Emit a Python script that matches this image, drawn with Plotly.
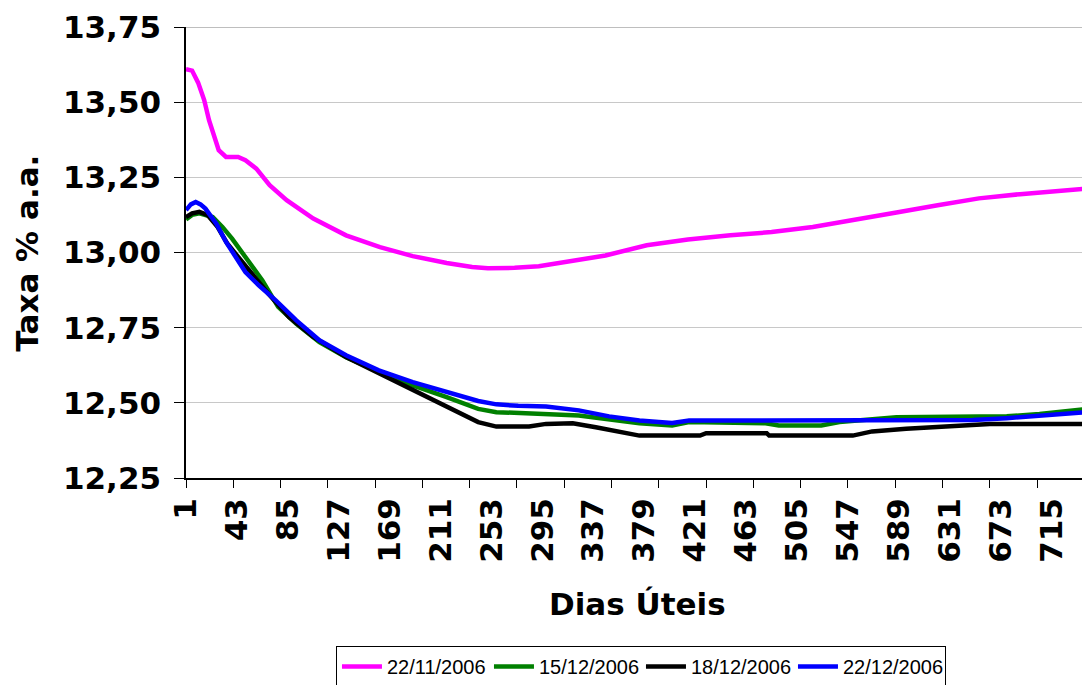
import plotly.graph_objects as go

# ---- data ----
series_names = ["22/11/2006", "15/12/2006", "18/12/2006", "22/12/2006"]
series_colors = ["#FF00FF", "#008000", "#000000", "#0000FF"]

d_nov22 = [1, 6, 11, 16, 20, 24, 28, 34, 40, 44, 50, 59, 70, 84, 106, 133, 161, 188, 216, 237,
           250, 272, 292, 313, 347, 381, 415, 450, 484, 518, 552, 587, 621, 655, 689, 724, 745]
v_nov22 = [13.61, 13.605, 13.565, 13.507, 13.44, 13.385, 13.34, 13.318, 13.316, 13.318, 13.307,
           13.279, 13.224, 13.174, 13.113, 13.057, 13.018, 12.988, 12.965, 12.952,
           12.948, 12.949, 12.954, 12.968, 12.99, 13.024, 13.043, 13.057, 13.068, 13.085,
           13.107, 13.133, 13.157, 13.18, 13.194, 13.205, 13.213]

d_dec15 = [1, 6, 12, 23, 31, 39, 50, 64, 77, 92, 111, 133, 161, 188, 216, 242, 257, 298, 325,
           375, 402, 416, 479, 490, 525, 540, 554, 587, 678, 705, 745]
v_dec15 = [13.11, 13.125, 13.13, 13.118, 13.085, 13.046, 12.985, 12.907, 12.819, 12.763,
           12.702, 12.652, 12.602, 12.558, 12.519, 12.48, 12.469, 12.464, 12.458,
           12.432, 12.425, 12.436, 12.432, 12.425, 12.425, 12.436, 12.441, 12.452, 12.455,
           12.463, 12.48]

d_dec18 = [1, 6, 12, 19, 27, 35, 44, 55, 69, 86, 106, 133, 161, 188, 216, 242, 257, 284, 298,
           320, 339, 375, 425, 430, 480, 482, 551, 567, 595, 623, 664, 745]
v_dec18 = [13.118, 13.13, 13.135, 13.124, 13.085, 13.03, 12.985, 12.93, 12.863, 12.785,
           12.719, 12.652, 12.597, 12.541, 12.486, 12.436, 12.421, 12.421, 12.43,
           12.432, 12.419, 12.391, 12.391, 12.399, 12.399, 12.391, 12.391, 12.405, 12.414,
           12.421, 12.43, 12.43]

d_dec22 = [1, 5, 9, 13, 17, 26, 34, 42, 50, 61, 75, 92, 111, 133, 160, 188, 215, 242, 257,
           275, 298, 325, 350, 375, 391, 402, 416, 540, 650, 678, 705, 745]
v_dec22 = [13.141, 13.16, 13.168, 13.16, 13.146, 13.096, 13.035, 12.985, 12.935, 12.891,
           12.841, 12.774, 12.708, 12.658, 12.608, 12.569, 12.536, 12.506, 12.495,
           12.49, 12.488, 12.475, 12.455, 12.441, 12.436, 12.433, 12.441, 12.441, 12.443,
           12.449, 12.458, 12.469]

x_label_first, x_label_last, x_label_step = 1, 715, 42
x_mark_step = 39
x_last = 745
y_min, y_max, y_step = 12.25, 13.75, 0.25

series_x = [d_nov22, d_dec15, d_dec18, d_dec22]
series_y = [v_nov22, v_dec15, v_dec18, v_dec22]

FONT = "DejaVu Sans"

fig = go.Figure()
for name, color, xs, ys in zip(series_names, series_colors, series_x, series_y):
    fig.add_trace(go.Scatter(x=xs, y=ys, mode="lines", name=name,
                             line=dict(color=color, width=4.5)))

label_vals = list(range(x_label_first, x_label_last + 1, x_label_step))
mark_vals = list(range(1, x_last + 1, x_mark_step))

# the page body adds an 8px offset, so the figure is sized/margined to compensate
fig.update_layout(
    width=1082, height=677,
    margin=dict(l=178, r=2, t=19, b=207, autoexpand=False),
    paper_bgcolor="white", plot_bgcolor="white",
    separators=",.",
    showlegend=True,
    legend=dict(orientation="h", x=0.5044, xanchor="center", y=-0.3726, yanchor="top",
                bordercolor="black", borderwidth=1,
                font=dict(family="Liberation Sans", size=20, color="black"),
                entrywidth=97, entrywidthmode="pixels",
                itemwidth=40, tracegroupgap=0),
    xaxis=dict(range=[1, x_last], tickmode="array", tickvals=label_vals,
               ticktext=[str(v) for v in label_vals],
               tickangle=-90, ticks="outside", ticklen=6, tickcolor="rgba(0,0,0,0)",
               ticklabelstandoff=0, automargin=False,
               tickfont=dict(family=FONT, size=31, color="black", weight="bold"),
               showline=True, linecolor="black", linewidth=1.5,
               showgrid=False, zeroline=False,
               minor=dict(tickmode="array", tickvals=mark_vals, ticks="outside",
                          ticklen=8, tickcolor="black", tickwidth=1, showgrid=False)),
    yaxis=dict(range=[y_min, y_max], tickmode="linear", tick0=y_min, dtick=y_step,
               tickformat=".2f", ticks="outside", ticklen=10, tickcolor="black",
               ticklabelstandoff=7, automargin=False,
               tickfont=dict(family=FONT, size=31, color="black", weight="bold"),
               showline=True, linecolor="black", linewidth=1.5,
               showgrid=True, gridcolor="#c8c8c8", gridwidth=1, zeroline=False),
)

fig.add_shape(type="line", xref="paper", yref="y", x0=0, x1=1, y0=y_max, y1=y_max,
              line=dict(color="#a8a8a8", width=1.5))

fig.add_annotation(text="Dias Úteis", xref="paper", yref="paper", x=0.5, y=-0.279,
                   xanchor="center", yanchor="middle", showarrow=False,
                   font=dict(family=FONT, size=31, color="black", weight="bold"))
fig.add_annotation(text="Taxa % a.a.", xref="paper", yref="paper", x=-0.1766, y=0.499,
                   xanchor="center", yanchor="middle", showarrow=False, textangle=-90,
                   font=dict(family=FONT, size=31, color="black", weight="bold"))

fig.write_html("out.html")
